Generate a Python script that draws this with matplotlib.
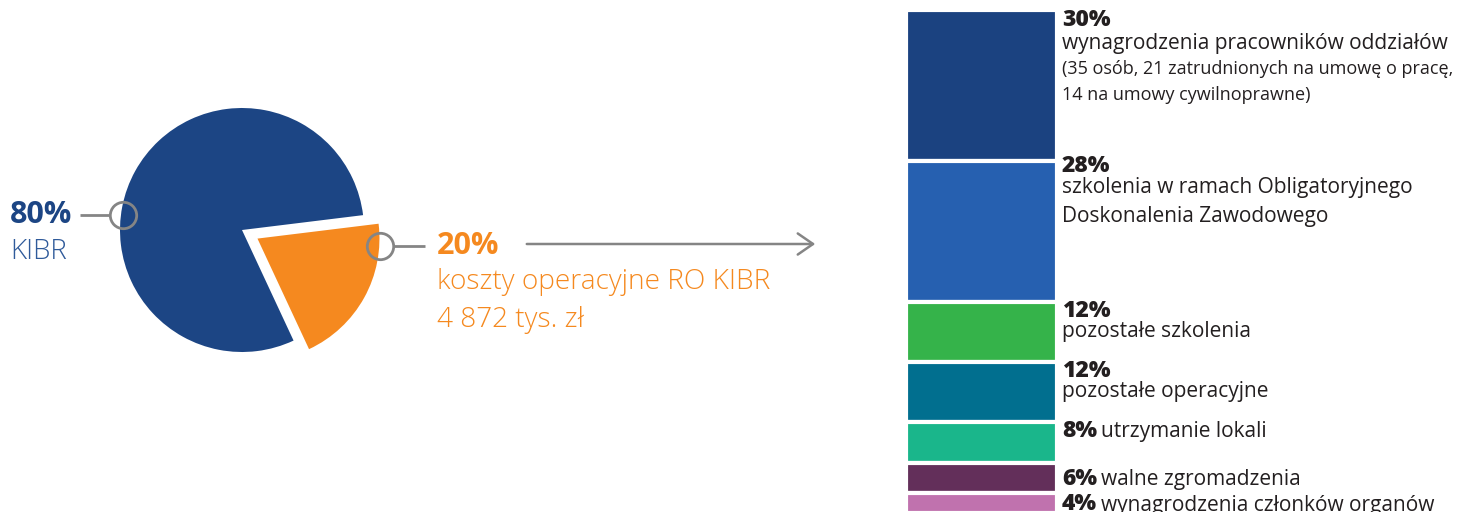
"""KIBR cost split: pie (KIBR vs RO KIBR) + stacked breakdown bar of RO KIBR costs."""
import matplotlib
matplotlib.use("Agg")
import matplotlib.pyplot as plt
import numpy as np

W, H = 1462, 512

# --- data -------------------------------------------------------------------
pie_labels = ["RO KIBR", "KIBR"]
pie_shares = [20, 80]

bar_shares = [30, 28, 12, 12, 8, 6, 4]
bar_names = [
    "wynagrodzenia pracowników oddziałów",
    "szkolenia w ramach Obligatoryjnego\nDoskonalenia Zawodowego",
    "pozostałe szkolenia",
    "pozostałe operacyjne",
    "utrzymanie lokali",
    "walne zgromadzenia",
    "wynagrodzenia członków organów",
]
bar_note = "(35 osób, 21 zatrudnionych na umowę o pracę,\n14 na umowy cywilnoprawne)"
bar_colors = ["#1b4280", "#2660b0", "#35b34a", "#016f8f", "#1ab68b", "#632f5a", "#c072ae"]

C_BLUE = "#1c4584"
C_BLUE_L = "#2f5a9a"
C_ORANGE = "#f5891f"
C_GRAY = "#858585"
C_TEXT = "#231f20"
FONT = "Open Sans"

plt.rcParams["font.family"] = [FONT, "DejaVu Sans"]

fig = plt.figure(figsize=(W / 100, H / 100), dpi=100)

# --- pie --------------------------------------------------------------------
cx, cy, r = 242, 230, 122
half = 150
pax = fig.add_axes([(cx - half) / W, (H - cy - half) / H, 2 * half / W, 2 * half / H])
pax.pie(pie_shares, colors=[C_ORANGE, C_BLUE], startangle=-65, counterclock=True,
        explode=[0.145, 0], wedgeprops=dict(linewidth=0))
pax.set_xlim(-half / r, half / r); pax.set_ylim(-half / r, half / r)
pax.set_aspect("equal"); pax.axis("off")

# --- stacked bar --------------------------------------------------------------
bx0, bx1, btop, bbot = 906, 1057, 10, 530   # axes runs off the canvas at the bottom
px_per_pct = 5.03
bax = fig.add_axes([bx0 / W, (H - bbot) / H, (bx1 - bx0) / W, (bbot - btop) / H])
bottoms = np.concatenate([[0], np.cumsum(bar_shares)[:-1]])
bax.bar([0] * len(bar_shares), bar_shares, bottom=bottoms, width=1.0,
        color=bar_colors, edgecolor="white", linewidth=3)
bax.set_xlim(-0.5, 0.5)
bax.set_ylim((bbot - btop) / px_per_pct, 0)
bax.axis("off")

# --- overlay (annotations in pixel space) ---------------------------------------
ov = fig.add_axes([0, 0, 1, 1], zorder=5)
ov.set_xlim(0, W); ov.set_ylim(H, 0); ov.axis("off")
ov.patch.set_alpha(0)

# connectors with open circles
ov.plot([80, 110], [215, 215], color=C_GRAY, lw=2, solid_capstyle="butt")
ov.plot([123], [215], "o", ms=19, mfc="none", mec=C_GRAY, mew=2)
ov.plot([393, 425], [246, 246], color=C_GRAY, lw=2, solid_capstyle="butt")
ov.plot([380], [246], "o", ms=19, mfc="none", mec=C_GRAY, mew=2)
ov.annotate("", xy=(818, 244), xytext=(524, 244),
            arrowprops=dict(arrowstyle="->,head_length=0.55,head_width=0.38",
                            mutation_scale=20, color=C_GRAY, lw=1.8))

ov.text(10, 215, f"{pie_shares[1]}%", fontsize=22, fontweight="bold", color=C_BLUE,
        va="center", ha="left")
ov.text(10, 252, pie_labels[1], fontsize=20, fontweight="light", color=C_BLUE_L,
        va="center", ha="left")
ov.text(437, 246, f"{pie_shares[0]}%", fontsize=22, fontweight="bold", color=C_ORANGE,
        va="center", ha="left")
ov.text(437, 282, "koszty operacyjne RO KIBR", fontsize=20.2, fontweight="light",
        color=C_ORANGE, va="center", ha="left")
ov.text(437, 320, "4 872 tys. zł", fontsize=20.2, fontweight="light",
        color=C_ORANGE, va="center", ha="left")

# bar labels
tx = 1062
fig.canvas.draw()
renderer = fig.canvas.get_renderer()


def head(y, pct, tail=None):
    t = ov.text(tx, y, f"{pct}%", fontsize=16.5, fontweight="heavy", color=C_TEXT,
                va="center", ha="left")
    if tail is not None:
        bb = t.get_window_extent(renderer)
        ov.text(tx + bb.width + 4, y + 1, tail, fontsize=15, color=C_TEXT,
                va="center", ha="left")


head(20, bar_shares[0])
ov.text(tx, 43, bar_names[0], fontsize=15, color=C_TEXT, va="center", ha="left")
ov.text(tx, 82, bar_note, fontsize=13, color=C_TEXT, va="center", ha="left",
        linespacing=1.55)
head(166, bar_shares[1])
ov.text(tx, 202, bar_names[1], fontsize=15, color=C_TEXT, va="center", ha="left",
        linespacing=1.45)
head(311, bar_shares[2])
ov.text(tx, 331, bar_names[2], fontsize=15, color=C_TEXT, va="center", ha="left")
head(371, bar_shares[3])
ov.text(tx, 392, bar_names[3], fontsize=15, color=C_TEXT, va="center", ha="left")
head(431, bar_shares[4], bar_names[4])
head(479, bar_shares[5], bar_names[5])
head(504, bar_shares[6], bar_names[6])

fig.savefig("out.png", dpi=100)
